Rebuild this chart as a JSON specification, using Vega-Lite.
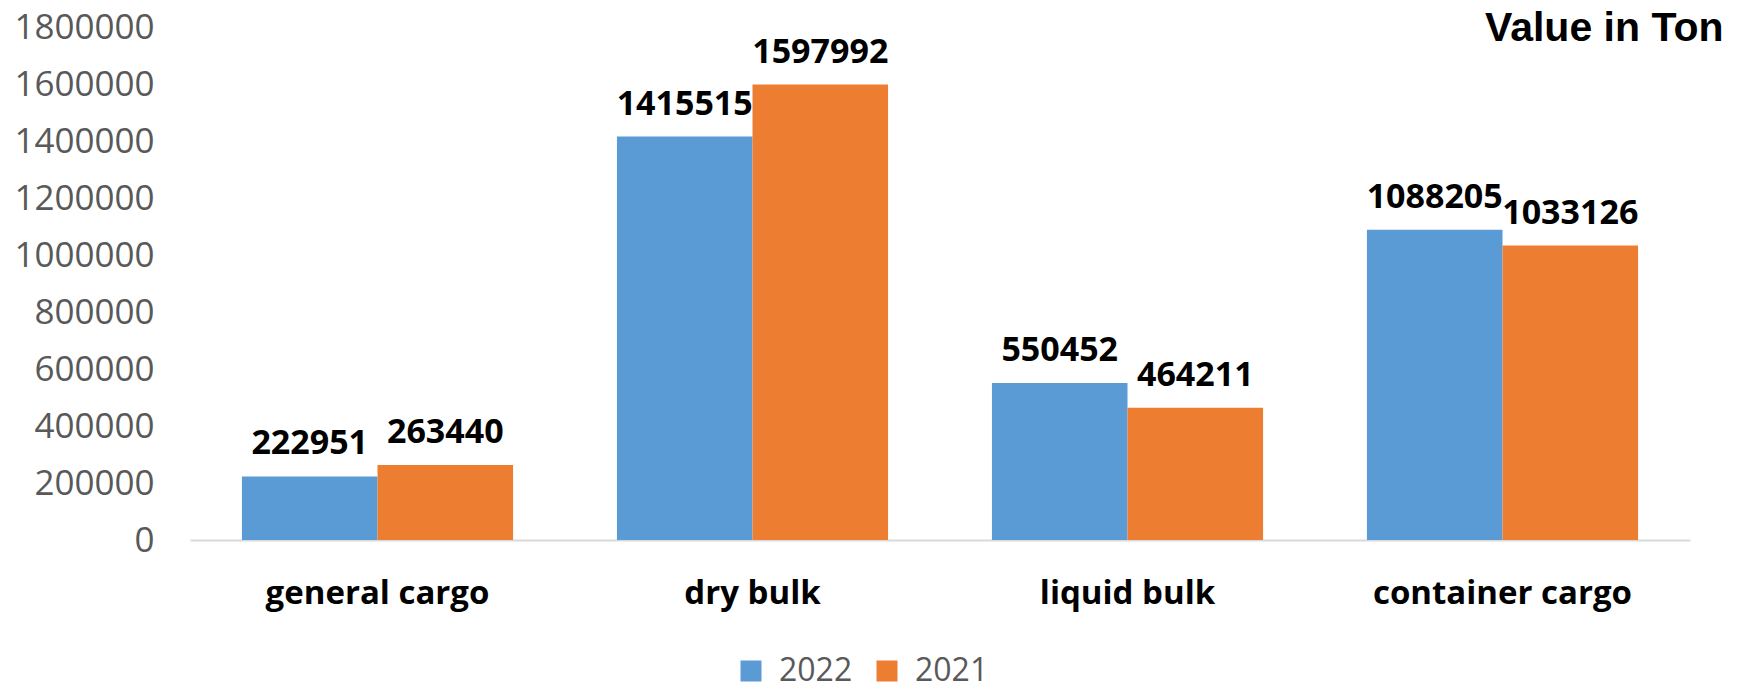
{
  "$schema": "https://vega.github.io/schema/vega-lite/v6.json",
  "autosize": {"type": "none"},
  "padding": {"left": 190, "top": 27, "right": 49, "bottom": 152},
  "width": 1500,
  "height": 513,
  "background": "white",
  "view": {"stroke": null},
  "data": {
    "values": [
      {"category": "general cargo", "year": "2022", "value": 222951},
      {"category": "general cargo", "year": "2021", "value": 263440},
      {"category": "dry bulk", "year": "2022", "value": 1415515},
      {"category": "dry bulk", "year": "2021", "value": 1597992},
      {"category": "liquid bulk", "year": "2022", "value": 550452},
      {"category": "liquid bulk", "year": "2021", "value": 464211},
      {"category": "container cargo", "year": "2022", "value": 1088205},
      {"category": "container cargo", "year": "2021", "value": 1033126}
    ]
  },
  "encoding": {
    "x": {
      "field": "category",
      "type": "nominal",
      "sort": ["general cargo", "dry bulk", "liquid bulk", "container cargo"],
      "scale": {"paddingInner": 0.277, "paddingOuter": 0.1385},
      "axis": {
        "title": "Value in Ton",
        "titleFont": "Liberation Sans",
        "titleFontSize": 41,
        "titleFontWeight": "bold",
        "titleColor": "#000000",
        "titleAlign": "right",
        "titleAnchor": "end",
        "titleBaseline": "alphabetic",
        "titleX": 1533,
        "titleY": -500,
        "labelAngle": 0,
        "labelLimit": 0,
        "labelFont": "Open Sans",
        "labelFontSize": 33,
        "labelFontWeight": "bold",
        "labelColor": "#000000",
        "labelPadding": 37,
        "ticks": false,
        "domainColor": "#d9d9d9",
        "domainWidth": 2
      }
    },
    "xOffset": {"field": "year", "type": "nominal", "sort": ["2022", "2021"]},
    "y": {
      "field": "value",
      "type": "quantitative",
      "scale": {"domain": [0, 1800000], "nice": false},
      "axis": {
        "title": null,
        "values": [0, 200000, 400000, 600000, 800000, 1000000, 1200000, 1400000, 1600000, 1800000],
        "format": "d",
        "grid": false,
        "domain": false,
        "ticks": false,
        "labelFont": "Open Sans",
        "labelFontSize": 35,
        "labelColor": "#595959",
        "labelPadding": 36
      }
    }
  },
  "layer": [
    {
      "mark": {"type": "bar"},
      "encoding": {
        "color": {
          "field": "year",
          "type": "nominal",
          "scale": {"domain": ["2022", "2021"], "range": ["#5B9BD5", "#ED7D31"]},
          "legend": {
            "title": null,
            "orient": "none",
            "direction": "horizontal",
            "legendX": 545,
            "legendY": 628,
            "symbolType": "square",
            "symbolSize": 441,
            "symbolStrokeWidth": 0,
            "labelFont": "Open Sans",
            "labelFontSize": 32,
            "labelColor": "#595959",
            "labelOffset": 12,
            "columnPadding": 18
          }
        }
      }
    },
    {
      "mark": {
        "type": "text",
        "font": "Open Sans",
        "fontSize": 34,
        "fontWeight": "bold",
        "color": "#000000",
        "baseline": "alphabetic",
        "dy": -22
      },
      "encoding": {
        "text": {"field": "value", "type": "quantitative", "format": "d"}
      }
    }
  ]
}
